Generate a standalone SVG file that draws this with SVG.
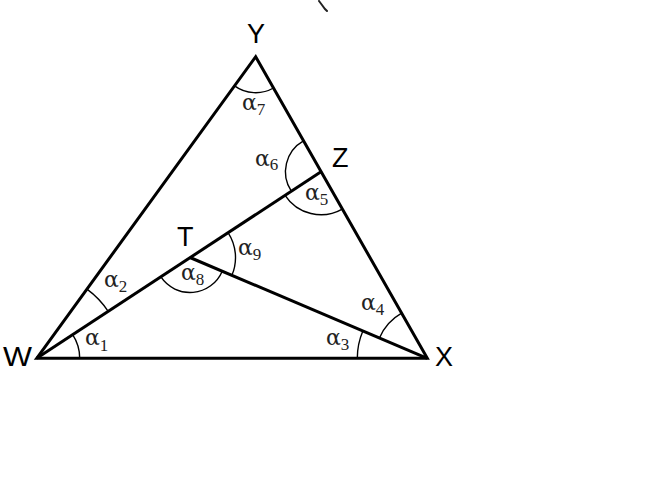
<svg xmlns="http://www.w3.org/2000/svg" width="650" height="490" viewBox="0 0 650 490">
<style>
.seg{fill:none;stroke:#000;stroke-width:3;stroke-linejoin:miter}
.arc{fill:none;stroke:#000;stroke-width:1.4}
.pt{font-family:"Liberation Sans",Arial,sans-serif;font-size:27px;fill:#000}
.ang{font-family:"DejaVu Serif","Liberation Serif",serif;font-size:22px;fill:#222}
.sub{font-family:"Liberation Serif","Times New Roman",serif;font-size:17px}
</style>
<rect width="650" height="490" fill="#fff"/>
<path d="M319,1 L322,5 L325,9 L327,11" fill="none" stroke="#222" stroke-width="2" stroke-linecap="round"/>
<g id="connectors">
<polygon class="seg" points="36.7,358.3 255.7,56.7 427.3,358.3"/>
<line class="seg" x1="36.7" y1="358.3" x2="321" y2="171.7"/>
<line class="seg" x1="190" y1="257.5" x2="427.3" y2="358.3"/>
</g>
<g id="angles">
<path class="arc" d="M79.7,358.3 A43,43 0 0 0 72.65,334.7"/>
<path class="arc" d="M108.18,311.39 A85.5,85.5 0 0 0 86.94,289.11"/>
<path class="arc" d="M357.3,358.3 A70,70 0 0 1 362.86,330.93"/>
<path class="arc" d="M379.43,337.97 A52,52 0 0 1 401.59,313.10"/>
<path class="arc" d="M285.05,195.29 A43,43 0 0 0 342.26,209.08"/>
<path class="arc" d="M303.45,140.84 A35.5,35.5 0 0 0 291.32,191.18"/>
<path class="arc" d="M234.55,85.83 A36,36 0 0 0 273.5,88.0"/>
<path class="arc" d="M160.76,276.73 A35,35 0 0 0 222.22,271.19"/>
<path class="arc" d="M228.04,232.53 A45.5,45.5 0 0 1 231.88,275.29"/>
<text class="ang" x="85" y="345">α<tspan class="sub" dy="6">1</tspan></text>
<text class="ang" x="104" y="287">α<tspan class="sub" dy="5">2</tspan></text>
<text class="ang" x="326" y="345">α<tspan class="sub" dy="5">3</tspan></text>
<text class="ang" x="361" y="310">α<tspan class="sub" dy="5">4</tspan></text>
<text class="ang" x="305" y="200">α<tspan class="sub" dy="5">5</tspan></text>
<text class="ang" x="255" y="166">α<tspan class="sub" dy="4">6</tspan></text>
<text class="ang" x="242" y="110">α<tspan class="sub" dy="5">7</tspan></text>
<text class="ang" x="181" y="280">α<tspan class="sub" dy="5">8</tspan></text>
<text class="ang" x="238" y="255">α<tspan class="sub" dy="5">9</tspan></text>
</g>
<g id="node-W"><text class="pt" x="3" y="366" textLength="29" lengthAdjust="spacingAndGlyphs">W</text></g>
<g id="node-X"><text class="pt" x="435" y="366">X</text></g>
<g id="node-Y"><text class="pt" x="256" y="43" text-anchor="middle">Y</text></g>
<g id="node-Z"><text class="pt" x="332" y="167">Z</text></g>
<g id="node-T"><text class="pt" x="177" y="246">T</text></g>
</svg>
